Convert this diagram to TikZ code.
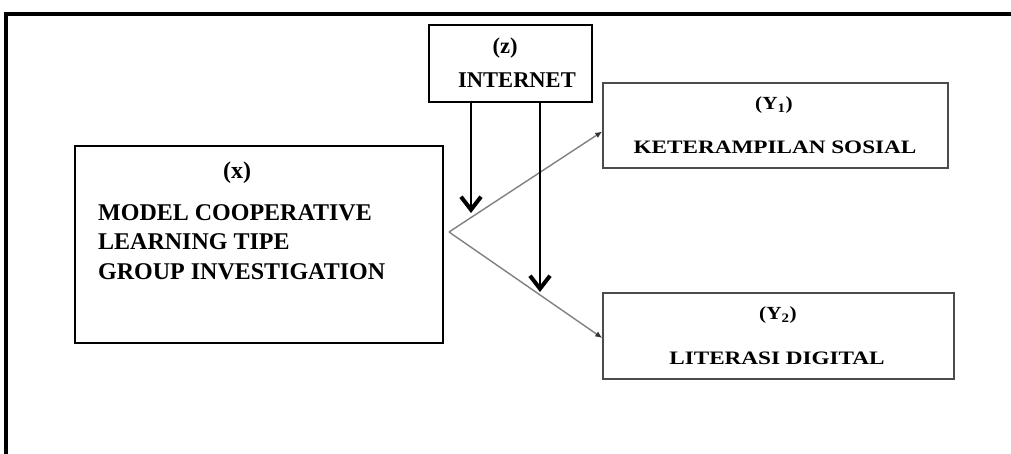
\documentclass[tikz,border=0pt]{standalone}
\usepackage{fontspec}
\setmainfont{Liberation Serif}
\usetikzlibrary{arrows.meta}
\tikzset{
  box/.style={draw=black, line width=1.5pt, rectangle, inner sep=0pt},
  ybox/.style={draw=black!70, line width=1.5pt, rectangle, inner sep=0pt},
  lbl/.style={inner sep=0pt, font=\bfseries},
  zarrow/.style={draw=black, line width=1.4pt, -{Straight Barb[length=13pt, width=20pt, line width=4pt]}},
  garrow/.style={draw=black!50, line width=1.4pt, -{Latex[length=7pt, width=6pt, color=black!80]}},
}
\begin{document}
\begin{tikzpicture}[x=1pt, y=-1pt]
\useasboundingbox (0,0) rectangle (1011,454);
\clip (0,0) rectangle (1011,454);
% outer frame
\draw[line width=4.5pt] (6,470) -- (6,14) -- (1030,14);
% boxes
\node[box, minimum width=163pt, minimum height=77pt] (z) at (510.5,63.5) {};
\node[lbl, font=\bfseries\fontsize{22.5}{24}\selectfont] (zt1) at (505,48) {(z)};
\node[lbl, font=\bfseries\fontsize{22.5}{24}\selectfont] (zt2) at (517,80) {INTERNET};
\node[box, minimum width=368pt, minimum height=197pt] (x) at (259,244.5) {};
\node[lbl, font=\bfseries\fontsize{24}{29.5}\selectfont] (xt1) at (237,173) {(x)};
\node[lbl, font=\bfseries\fontsize{24}{29.5}\selectfont, align=left, anchor=west] (xt2) at (98,242) {MODEL COOPERATIVE\\LEARNING TIPE\\GROUP INVESTIGATION};
\node[ybox, minimum width=345pt, minimum height=85pt] (y1) at (775.5,125.5) {};
\node[lbl, font=\bfseries\fontsize{18.5}{20}\selectfont] (y1t1) at (774,105) {\scalebox{1.15}[1]{(Y\textsubscript{1})}};
\node[lbl, font=\bfseries\fontsize{19}{22}\selectfont] (y1t2) at (775,147) {\scalebox{1.22}[1]{KETERAMPILAN SOSIAL}};
\node[ybox, minimum width=351pt, minimum height=86pt] (y2) at (778.5,336) {};
\node[lbl, font=\bfseries\fontsize{18.5}{20}\selectfont] (y2t1) at (778,315) {\scalebox{1.15}[1]{(Y\textsubscript{2})}};
\node[lbl, font=\bfseries\fontsize{19}{22}\selectfont] (y2t2) at (777,358) {\scalebox{1.22}[1]{LITERASI DIGITAL}};
% connectors
\coordinate (v) at (449,232);
\coordinate (za) at (471,213);
\coordinate (zb) at (540,292);
\draw[garrow] (v) -- ([yshift=-6pt]y1.west);
\draw[garrow] (v) -- ([yshift=-2pt]y2.west);
\draw[zarrow] (z.south -| za) -- (za);
\draw[zarrow] (z.south -| zb) -- (zb);
\end{tikzpicture}
\end{document}
